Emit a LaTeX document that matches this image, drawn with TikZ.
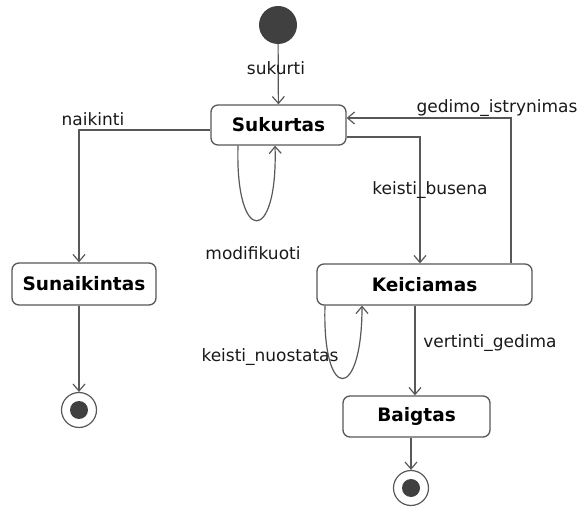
\documentclass[tikz,border=0pt]{standalone}
\usepackage{fontspec}
\setmainfont{DejaVu Sans}
\usetikzlibrary{arrows.meta}
\definecolor{umlline}{RGB}{88,88,88}
\definecolor{umlfill}{RGB}{64,64,64}
\begin{document}
\begin{tikzpicture}[x=1pt,y=-1pt,
  state/.style={draw=umlline, line width=1.3pt, rounded corners=7pt, fill=white,
    font=\fontsize{18.5}{20}\selectfont\bfseries, inner sep=0pt},
  trans/.style={draw=umlline, line width=1.2pt,
    -{Straight Barb[length=7pt,width=12pt,line width=1.2pt]}},
  lbl/.style={font=\fontsize{17}{19}\selectfont, inner sep=0pt, text=black!90},
  initstate/.style={circle, fill=umlfill, minimum size=38pt, inner sep=0pt},
  finalstate/.style={circle, draw=umlline, line width=1.2pt, fill=white,
    minimum size=35pt, inner sep=0pt}
]
\useasboundingbox (0,0) rectangle (584,508);

% states
\node[initstate] (init) at (278,25) {};
\node[state, minimum width=135pt, minimum height=40pt] (sk) at (278.5,125) {Sukurtas};
\node[state, minimum width=144pt, minimum height=42pt] (sn) at (84,284) {Sunaikintas};
\node[state, minimum width=215pt, minimum height=41pt] (kc) at (424.5,284.5) {Keiciamas};
\node[state, minimum width=147pt, minimum height=41pt] (bg) at (416.5,416.5) {Baigtas};
\node[finalstate] (fin1) at (79,410) {};
\fill[umlfill] (fin1) circle (9pt);
\node[finalstate] (fin2) at (411,488) {};
\fill[umlfill] (fin2) circle (9pt);

% transitions
\draw[trans] (init) -- (sk);
\draw[trans] ([yshift=-5pt]sk.west) -| ([xshift=-5pt]sn.north);
\draw[trans] ([yshift=-12pt]sk.east) -| ([xshift=-4.5pt]kc.north);
\draw[trans] ([xshift=86.5pt]kc.north) |- ([yshift=7pt]sk.east);
\draw[trans] ([xshift=-40.5pt]sk.south) .. controls +(-3,100) and +(3,100) .. ([xshift=-3.5pt]sk.south);
\draw[trans] ([xshift=-99.5pt]kc.south) .. controls +(-3,97) and +(0,97) .. ([xshift=-62.5pt]kc.south);
\draw[trans] ([xshift=-9.5pt]kc.south) -- ([xshift=-1.5pt]bg.north);
\draw[trans] ([xshift=-5pt]sn.south) -- (fin1);
\draw[trans] ([xshift=-5.5pt]bg.south) -- (fin2);

% transition labels
\node[lbl] (lsukurti) at (276,68) {sukurti};
\node[lbl] (lnaikinti) at (93,119) {naikinti};
\node[lbl] (lmodif) at (253,253) {modifikuoti};
\node[lbl] (lgedimo) at (497,108) {gedimo\_istrynimas};
\node[lbl] (lbusena) at (430,190) {keisti\_busena};
\node[lbl] (lnuost) at (270,357) {keisti\_nuostatas};
\node[lbl] (lvert) at (490,343) {vertinti\_gedima};
\end{tikzpicture}
\end{document}
